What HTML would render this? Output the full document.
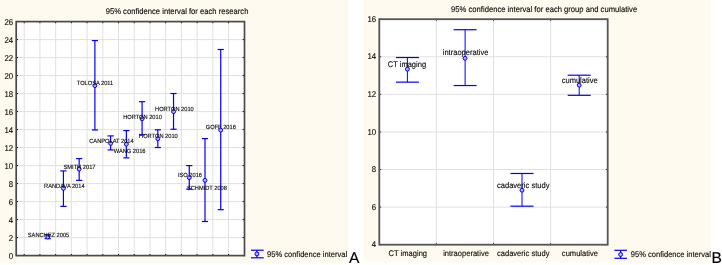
<!DOCTYPE html>
<html><head><meta charset="utf-8"><title>Confidence intervals</title>
<style>
html,body{margin:0;padding:0;background:#fff;width:722px;height:265px;overflow:hidden}
svg text{text-rendering:geometricPrecision;font-family:"Liberation Sans", sans-serif;fill:#0a0a0a;stroke:#0a0a0a;stroke-width:0.12px}
svg text.big{fill:#000;stroke:#000;stroke-width:0.15px}
</style></head><body>
<svg width="722" height="265" viewBox="0 0 722 265" style="display:block;filter:blur(0.3px)">
<rect x="0" y="0" width="722" height="265" fill="#ffffff"/>
<rect x="0" y="0" width="348.3" height="263.2" fill="#fffaf0"/>
<rect x="363.6" y="0" width="347.2" height="262.6" fill="#fffaf0"/>
<rect x="16.2" y="21.6" width="228.3" height="234.0" fill="#fff"/>
<line x1="24.20" y1="21.6" x2="24.20" y2="255.6" stroke="#e0e0e0" stroke-width="1"/>
<line x1="39.92" y1="21.6" x2="39.92" y2="255.6" stroke="#e0e0e0" stroke-width="1"/>
<line x1="55.64" y1="21.6" x2="55.64" y2="255.6" stroke="#e0e0e0" stroke-width="1"/>
<line x1="71.36" y1="21.6" x2="71.36" y2="255.6" stroke="#e0e0e0" stroke-width="1"/>
<line x1="87.08" y1="21.6" x2="87.08" y2="255.6" stroke="#e0e0e0" stroke-width="1"/>
<line x1="102.80" y1="21.6" x2="102.80" y2="255.6" stroke="#e0e0e0" stroke-width="1"/>
<line x1="118.52" y1="21.6" x2="118.52" y2="255.6" stroke="#e0e0e0" stroke-width="1"/>
<line x1="134.24" y1="21.6" x2="134.24" y2="255.6" stroke="#e0e0e0" stroke-width="1"/>
<line x1="149.96" y1="21.6" x2="149.96" y2="255.6" stroke="#e0e0e0" stroke-width="1"/>
<line x1="165.68" y1="21.6" x2="165.68" y2="255.6" stroke="#e0e0e0" stroke-width="1"/>
<line x1="181.40" y1="21.6" x2="181.40" y2="255.6" stroke="#e0e0e0" stroke-width="1"/>
<line x1="197.12" y1="21.6" x2="197.12" y2="255.6" stroke="#e0e0e0" stroke-width="1"/>
<line x1="212.84" y1="21.6" x2="212.84" y2="255.6" stroke="#e0e0e0" stroke-width="1"/>
<line x1="228.56" y1="21.6" x2="228.56" y2="255.6" stroke="#e0e0e0" stroke-width="1"/>
<line x1="16.2" y1="237.60" x2="244.5" y2="237.60" stroke="#e0e0e0" stroke-width="1"/>
<line x1="16.2" y1="219.60" x2="244.5" y2="219.60" stroke="#e0e0e0" stroke-width="1"/>
<line x1="16.2" y1="201.60" x2="244.5" y2="201.60" stroke="#e0e0e0" stroke-width="1"/>
<line x1="16.2" y1="183.60" x2="244.5" y2="183.60" stroke="#e0e0e0" stroke-width="1"/>
<line x1="16.2" y1="165.60" x2="244.5" y2="165.60" stroke="#e0e0e0" stroke-width="1"/>
<line x1="16.2" y1="147.60" x2="244.5" y2="147.60" stroke="#e0e0e0" stroke-width="1"/>
<line x1="16.2" y1="129.60" x2="244.5" y2="129.60" stroke="#e0e0e0" stroke-width="1"/>
<line x1="16.2" y1="111.60" x2="244.5" y2="111.60" stroke="#e0e0e0" stroke-width="1"/>
<line x1="16.2" y1="93.60" x2="244.5" y2="93.60" stroke="#e0e0e0" stroke-width="1"/>
<line x1="16.2" y1="75.60" x2="244.5" y2="75.60" stroke="#e0e0e0" stroke-width="1"/>
<line x1="16.2" y1="57.60" x2="244.5" y2="57.60" stroke="#e0e0e0" stroke-width="1"/>
<line x1="16.2" y1="39.60" x2="244.5" y2="39.60" stroke="#e0e0e0" stroke-width="1"/>
<line x1="24.20" y1="255.6" x2="24.20" y2="254.0" stroke="#000" stroke-width="1"/>
<line x1="24.20" y1="21.6" x2="24.20" y2="23.200000000000003" stroke="#000" stroke-width="1"/>
<line x1="39.92" y1="255.6" x2="39.92" y2="254.0" stroke="#000" stroke-width="1"/>
<line x1="39.92" y1="21.6" x2="39.92" y2="23.200000000000003" stroke="#000" stroke-width="1"/>
<line x1="55.64" y1="255.6" x2="55.64" y2="254.0" stroke="#000" stroke-width="1"/>
<line x1="55.64" y1="21.6" x2="55.64" y2="23.200000000000003" stroke="#000" stroke-width="1"/>
<line x1="71.36" y1="255.6" x2="71.36" y2="254.0" stroke="#000" stroke-width="1"/>
<line x1="71.36" y1="21.6" x2="71.36" y2="23.200000000000003" stroke="#000" stroke-width="1"/>
<line x1="87.08" y1="255.6" x2="87.08" y2="254.0" stroke="#000" stroke-width="1"/>
<line x1="87.08" y1="21.6" x2="87.08" y2="23.200000000000003" stroke="#000" stroke-width="1"/>
<line x1="102.80" y1="255.6" x2="102.80" y2="254.0" stroke="#000" stroke-width="1"/>
<line x1="102.80" y1="21.6" x2="102.80" y2="23.200000000000003" stroke="#000" stroke-width="1"/>
<line x1="118.52" y1="255.6" x2="118.52" y2="254.0" stroke="#000" stroke-width="1"/>
<line x1="118.52" y1="21.6" x2="118.52" y2="23.200000000000003" stroke="#000" stroke-width="1"/>
<line x1="134.24" y1="255.6" x2="134.24" y2="254.0" stroke="#000" stroke-width="1"/>
<line x1="134.24" y1="21.6" x2="134.24" y2="23.200000000000003" stroke="#000" stroke-width="1"/>
<line x1="149.96" y1="255.6" x2="149.96" y2="254.0" stroke="#000" stroke-width="1"/>
<line x1="149.96" y1="21.6" x2="149.96" y2="23.200000000000003" stroke="#000" stroke-width="1"/>
<line x1="165.68" y1="255.6" x2="165.68" y2="254.0" stroke="#000" stroke-width="1"/>
<line x1="165.68" y1="21.6" x2="165.68" y2="23.200000000000003" stroke="#000" stroke-width="1"/>
<line x1="181.40" y1="255.6" x2="181.40" y2="254.0" stroke="#000" stroke-width="1"/>
<line x1="181.40" y1="21.6" x2="181.40" y2="23.200000000000003" stroke="#000" stroke-width="1"/>
<line x1="197.12" y1="255.6" x2="197.12" y2="254.0" stroke="#000" stroke-width="1"/>
<line x1="197.12" y1="21.6" x2="197.12" y2="23.200000000000003" stroke="#000" stroke-width="1"/>
<line x1="212.84" y1="255.6" x2="212.84" y2="254.0" stroke="#000" stroke-width="1"/>
<line x1="212.84" y1="21.6" x2="212.84" y2="23.200000000000003" stroke="#000" stroke-width="1"/>
<line x1="228.56" y1="255.6" x2="228.56" y2="254.0" stroke="#000" stroke-width="1"/>
<line x1="228.56" y1="21.6" x2="228.56" y2="23.200000000000003" stroke="#000" stroke-width="1"/>
<line x1="16.2" y1="255.60" x2="18.0" y2="255.60" stroke="#000" stroke-width="1"/>
<line x1="244.5" y1="255.60" x2="242.7" y2="255.60" stroke="#000" stroke-width="1"/>
<line x1="16.2" y1="237.60" x2="18.0" y2="237.60" stroke="#000" stroke-width="1"/>
<line x1="244.5" y1="237.60" x2="242.7" y2="237.60" stroke="#000" stroke-width="1"/>
<line x1="16.2" y1="219.60" x2="18.0" y2="219.60" stroke="#000" stroke-width="1"/>
<line x1="244.5" y1="219.60" x2="242.7" y2="219.60" stroke="#000" stroke-width="1"/>
<line x1="16.2" y1="201.60" x2="18.0" y2="201.60" stroke="#000" stroke-width="1"/>
<line x1="244.5" y1="201.60" x2="242.7" y2="201.60" stroke="#000" stroke-width="1"/>
<line x1="16.2" y1="183.60" x2="18.0" y2="183.60" stroke="#000" stroke-width="1"/>
<line x1="244.5" y1="183.60" x2="242.7" y2="183.60" stroke="#000" stroke-width="1"/>
<line x1="16.2" y1="165.60" x2="18.0" y2="165.60" stroke="#000" stroke-width="1"/>
<line x1="244.5" y1="165.60" x2="242.7" y2="165.60" stroke="#000" stroke-width="1"/>
<line x1="16.2" y1="147.60" x2="18.0" y2="147.60" stroke="#000" stroke-width="1"/>
<line x1="244.5" y1="147.60" x2="242.7" y2="147.60" stroke="#000" stroke-width="1"/>
<line x1="16.2" y1="129.60" x2="18.0" y2="129.60" stroke="#000" stroke-width="1"/>
<line x1="244.5" y1="129.60" x2="242.7" y2="129.60" stroke="#000" stroke-width="1"/>
<line x1="16.2" y1="111.60" x2="18.0" y2="111.60" stroke="#000" stroke-width="1"/>
<line x1="244.5" y1="111.60" x2="242.7" y2="111.60" stroke="#000" stroke-width="1"/>
<line x1="16.2" y1="93.60" x2="18.0" y2="93.60" stroke="#000" stroke-width="1"/>
<line x1="244.5" y1="93.60" x2="242.7" y2="93.60" stroke="#000" stroke-width="1"/>
<line x1="16.2" y1="75.60" x2="18.0" y2="75.60" stroke="#000" stroke-width="1"/>
<line x1="244.5" y1="75.60" x2="242.7" y2="75.60" stroke="#000" stroke-width="1"/>
<line x1="16.2" y1="57.60" x2="18.0" y2="57.60" stroke="#000" stroke-width="1"/>
<line x1="244.5" y1="57.60" x2="242.7" y2="57.60" stroke="#000" stroke-width="1"/>
<line x1="16.2" y1="39.60" x2="18.0" y2="39.60" stroke="#000" stroke-width="1"/>
<line x1="244.5" y1="39.60" x2="242.7" y2="39.60" stroke="#000" stroke-width="1"/>
<line x1="16.2" y1="21.60" x2="18.0" y2="21.60" stroke="#000" stroke-width="1"/>
<line x1="244.5" y1="21.60" x2="242.7" y2="21.60" stroke="#000" stroke-width="1"/>
<rect x="16.2" y="21.6" width="228.3" height="234.0" fill="none" stroke="#4a4a4a" stroke-width="1.7"/>
<text transform="translate(13.20,258.62) scale(1,1.08)" font-size="7.8" text-anchor="end">0</text>
<text transform="translate(13.20,240.62) scale(1,1.08)" font-size="7.8" text-anchor="end">2</text>
<text transform="translate(13.20,222.62) scale(1,1.08)" font-size="7.8" text-anchor="end">4</text>
<text transform="translate(13.20,204.62) scale(1,1.08)" font-size="7.8" text-anchor="end">6</text>
<text transform="translate(13.20,186.62) scale(1,1.08)" font-size="7.8" text-anchor="end">8</text>
<text transform="translate(13.20,168.62) scale(1,1.08)" font-size="7.8" text-anchor="end">10</text>
<text transform="translate(13.20,150.62) scale(1,1.08)" font-size="7.8" text-anchor="end">12</text>
<text transform="translate(13.20,132.62) scale(1,1.08)" font-size="7.8" text-anchor="end">14</text>
<text transform="translate(13.20,114.62) scale(1,1.08)" font-size="7.8" text-anchor="end">16</text>
<text transform="translate(13.20,96.62) scale(1,1.08)" font-size="7.8" text-anchor="end">18</text>
<text transform="translate(13.20,78.62) scale(1,1.08)" font-size="7.8" text-anchor="end">20</text>
<text transform="translate(13.20,60.62) scale(1,1.08)" font-size="7.8" text-anchor="end">22</text>
<text transform="translate(13.20,42.62) scale(1,1.08)" font-size="7.8" text-anchor="end">24</text>
<text transform="translate(13.20,24.62) scale(1,1.08)" font-size="7.8" text-anchor="end">26</text>
<text transform="translate(105.70,13.50) scale(1,1.08)" font-size="7.65">95% confidence interval for each research</text>
<line x1="47.70" y1="234.90" x2="47.70" y2="238.68" stroke="#0000ff" stroke-width="1.2"/>
<line x1="44.60" y1="234.90" x2="50.80" y2="234.90" stroke="#0000ff" stroke-width="1.2"/>
<line x1="44.60" y1="238.68" x2="50.80" y2="238.68" stroke="#0000ff" stroke-width="1.2"/>
<circle cx="47.70" cy="236.97" r="1.95" fill="#b4b4ff" stroke="#0000ff" stroke-width="1.0"/>
<line x1="63.43" y1="170.91" x2="63.43" y2="206.37" stroke="#0000ff" stroke-width="1.2"/>
<line x1="60.33" y1="170.91" x2="66.53" y2="170.91" stroke="#0000ff" stroke-width="1.2"/>
<line x1="60.33" y1="206.37" x2="66.53" y2="206.37" stroke="#0000ff" stroke-width="1.2"/>
<circle cx="63.43" cy="188.37" r="1.95" fill="#b4b4ff" stroke="#0000ff" stroke-width="1.0"/>
<line x1="79.16" y1="158.58" x2="79.16" y2="180.36" stroke="#0000ff" stroke-width="1.2"/>
<line x1="76.06" y1="158.58" x2="82.26" y2="158.58" stroke="#0000ff" stroke-width="1.2"/>
<line x1="76.06" y1="180.36" x2="82.26" y2="180.36" stroke="#0000ff" stroke-width="1.2"/>
<circle cx="79.16" cy="169.11" r="1.95" fill="#b4b4ff" stroke="#0000ff" stroke-width="1.0"/>
<line x1="94.89" y1="40.59" x2="94.89" y2="129.96" stroke="#0000ff" stroke-width="1.2"/>
<line x1="91.79" y1="40.59" x2="97.99" y2="40.59" stroke="#0000ff" stroke-width="1.2"/>
<line x1="91.79" y1="129.96" x2="97.99" y2="129.96" stroke="#0000ff" stroke-width="1.2"/>
<circle cx="94.89" cy="85.59" r="1.95" fill="#b4b4ff" stroke="#0000ff" stroke-width="1.0"/>
<line x1="110.62" y1="135.90" x2="110.62" y2="149.94" stroke="#0000ff" stroke-width="1.2"/>
<line x1="107.52" y1="135.90" x2="113.72" y2="135.90" stroke="#0000ff" stroke-width="1.2"/>
<line x1="107.52" y1="149.94" x2="113.72" y2="149.94" stroke="#0000ff" stroke-width="1.2"/>
<circle cx="110.62" cy="143.37" r="1.95" fill="#b4b4ff" stroke="#0000ff" stroke-width="1.0"/>
<line x1="126.35" y1="130.59" x2="126.35" y2="157.86" stroke="#0000ff" stroke-width="1.2"/>
<line x1="123.25" y1="130.59" x2="129.45" y2="130.59" stroke="#0000ff" stroke-width="1.2"/>
<line x1="123.25" y1="157.86" x2="129.45" y2="157.86" stroke="#0000ff" stroke-width="1.2"/>
<circle cx="126.35" cy="144.18" r="1.95" fill="#b4b4ff" stroke="#0000ff" stroke-width="1.0"/>
<line x1="142.08" y1="101.70" x2="142.08" y2="134.73" stroke="#0000ff" stroke-width="1.2"/>
<line x1="138.98" y1="101.70" x2="145.18" y2="101.70" stroke="#0000ff" stroke-width="1.2"/>
<line x1="138.98" y1="134.73" x2="145.18" y2="134.73" stroke="#0000ff" stroke-width="1.2"/>
<circle cx="142.08" cy="118.80" r="1.95" fill="#b4b4ff" stroke="#0000ff" stroke-width="1.0"/>
<line x1="157.81" y1="129.78" x2="157.81" y2="147.51" stroke="#0000ff" stroke-width="1.2"/>
<line x1="154.71" y1="129.78" x2="160.91" y2="129.78" stroke="#0000ff" stroke-width="1.2"/>
<line x1="154.71" y1="147.51" x2="160.91" y2="147.51" stroke="#0000ff" stroke-width="1.2"/>
<circle cx="157.81" cy="138.69" r="1.95" fill="#b4b4ff" stroke="#0000ff" stroke-width="1.0"/>
<line x1="173.54" y1="93.51" x2="173.54" y2="129.24" stroke="#0000ff" stroke-width="1.2"/>
<line x1="170.44" y1="93.51" x2="176.64" y2="93.51" stroke="#0000ff" stroke-width="1.2"/>
<line x1="170.44" y1="129.24" x2="176.64" y2="129.24" stroke="#0000ff" stroke-width="1.2"/>
<circle cx="173.54" cy="111.60" r="1.95" fill="#b4b4ff" stroke="#0000ff" stroke-width="1.0"/>
<line x1="189.27" y1="165.60" x2="189.27" y2="189.09" stroke="#0000ff" stroke-width="1.2"/>
<line x1="186.17" y1="165.60" x2="192.37" y2="165.60" stroke="#0000ff" stroke-width="1.2"/>
<line x1="186.17" y1="189.09" x2="192.37" y2="189.09" stroke="#0000ff" stroke-width="1.2"/>
<circle cx="189.27" cy="177.66" r="1.95" fill="#b4b4ff" stroke="#0000ff" stroke-width="1.0"/>
<line x1="205.00" y1="138.60" x2="205.00" y2="221.49" stroke="#0000ff" stroke-width="1.2"/>
<line x1="201.90" y1="138.60" x2="208.10" y2="138.60" stroke="#0000ff" stroke-width="1.2"/>
<line x1="201.90" y1="221.49" x2="208.10" y2="221.49" stroke="#0000ff" stroke-width="1.2"/>
<circle cx="205.00" cy="180.36" r="1.95" fill="#b4b4ff" stroke="#0000ff" stroke-width="1.0"/>
<line x1="220.73" y1="49.50" x2="220.73" y2="209.70" stroke="#0000ff" stroke-width="1.2"/>
<line x1="217.63" y1="49.50" x2="223.83" y2="49.50" stroke="#0000ff" stroke-width="1.2"/>
<line x1="217.63" y1="209.70" x2="223.83" y2="209.70" stroke="#0000ff" stroke-width="1.2"/>
<circle cx="220.73" cy="130.14" r="1.95" fill="#b4b4ff" stroke="#0000ff" stroke-width="1.0"/>
<text transform="translate(48.50,236.70) scale(1,1.08)" font-size="5.7" text-anchor="middle">SANCHEZ 2005</text>
<text transform="translate(64.30,188.40) scale(1,1.08)" font-size="5.7" text-anchor="middle">RANDAVA 2014</text>
<text transform="translate(79.50,169.20) scale(1,1.08)" font-size="5.7" text-anchor="middle">SMITH 2017</text>
<text transform="translate(95.00,85.00) scale(1,1.08)" font-size="5.7" text-anchor="middle">TOLOSA 2011</text>
<text transform="translate(111.45,142.70) scale(1,1.08)" font-size="5.7" text-anchor="middle">CANPOLAT 2014</text>
<text transform="translate(129.60,153.20) scale(1,1.08)" font-size="5.7" text-anchor="middle">WANG 2016</text>
<text transform="translate(142.50,118.60) scale(1,1.08)" font-size="5.7" text-anchor="middle">HORTON 2010</text>
<text transform="translate(158.40,138.10) scale(1,1.08)" font-size="5.7" text-anchor="middle">HORTON 2010</text>
<text transform="translate(174.40,110.80) scale(1,1.08)" font-size="5.7" text-anchor="middle">HORTON 2010</text>
<text transform="translate(190.00,177.00) scale(1,1.08)" font-size="5.7" text-anchor="middle">ISO 2016</text>
<text transform="translate(206.90,189.50) scale(1,1.08)" font-size="5.7" text-anchor="middle">SCHMIDT 2008</text>
<text transform="translate(220.80,128.90) scale(1,1.08)" font-size="5.7" text-anchor="middle">GOFF 2016</text>
<line x1="251" y1="250.2" x2="263.7" y2="250.2" stroke="#0000ff" stroke-width="1.2"/>
<line x1="251" y1="257.8" x2="263.7" y2="257.8" stroke="#0000ff" stroke-width="1.2"/>
<line x1="256.9" y1="250.2" x2="256.9" y2="257.8" stroke="#0000ff" stroke-width="1.2"/>
<circle cx="256.9" cy="253.9" r="1.95" fill="#b4b4ff" stroke="#0000ff" stroke-width="1.0"/>
<text transform="translate(267.00,257.10) scale(1,1.08)" font-size="7.55">95% confidence interval</text>
<text transform="translate(348.90,262.70) scale(1,1.0)" font-size="15.5" class="big">A</text>
<rect x="379.3" y="19.2" width="228.40000000000003" height="225.5" fill="#fff"/>
<line x1="436.40" y1="19.2" x2="436.40" y2="244.7" stroke="#e0e0e0" stroke-width="1"/>
<line x1="436.40" y1="244.7" x2="436.40" y2="243.1" stroke="#333" stroke-width="1"/>
<line x1="436.40" y1="19.2" x2="436.40" y2="20.8" stroke="#333" stroke-width="1"/>
<line x1="493.50" y1="19.2" x2="493.50" y2="244.7" stroke="#e0e0e0" stroke-width="1"/>
<line x1="493.50" y1="244.7" x2="493.50" y2="243.1" stroke="#333" stroke-width="1"/>
<line x1="493.50" y1="19.2" x2="493.50" y2="20.8" stroke="#333" stroke-width="1"/>
<line x1="550.60" y1="19.2" x2="550.60" y2="244.7" stroke="#e0e0e0" stroke-width="1"/>
<line x1="550.60" y1="244.7" x2="550.60" y2="243.1" stroke="#333" stroke-width="1"/>
<line x1="550.60" y1="19.2" x2="550.60" y2="20.8" stroke="#333" stroke-width="1"/>
<line x1="379.3" y1="207.12" x2="607.7" y2="207.12" stroke="#e0e0e0" stroke-width="1"/>
<line x1="379.3" y1="169.53" x2="607.7" y2="169.53" stroke="#e0e0e0" stroke-width="1"/>
<line x1="379.3" y1="131.95" x2="607.7" y2="131.95" stroke="#e0e0e0" stroke-width="1"/>
<line x1="379.3" y1="94.37" x2="607.7" y2="94.37" stroke="#e0e0e0" stroke-width="1"/>
<line x1="379.3" y1="56.78" x2="607.7" y2="56.78" stroke="#e0e0e0" stroke-width="1"/>
<line x1="379.3" y1="244.70" x2="381.1" y2="244.70" stroke="#333" stroke-width="1"/>
<line x1="607.7" y1="244.70" x2="605.9000000000001" y2="244.70" stroke="#333" stroke-width="1"/>
<text transform="translate(376.20,247.32) scale(1,1.08)" font-size="7.8" text-anchor="end">4</text>
<line x1="379.3" y1="207.12" x2="381.1" y2="207.12" stroke="#333" stroke-width="1"/>
<line x1="607.7" y1="207.12" x2="605.9000000000001" y2="207.12" stroke="#333" stroke-width="1"/>
<text transform="translate(376.20,209.73) scale(1,1.08)" font-size="7.8" text-anchor="end">6</text>
<line x1="379.3" y1="169.53" x2="381.1" y2="169.53" stroke="#333" stroke-width="1"/>
<line x1="607.7" y1="169.53" x2="605.9000000000001" y2="169.53" stroke="#333" stroke-width="1"/>
<text transform="translate(376.20,172.15) scale(1,1.08)" font-size="7.8" text-anchor="end">8</text>
<line x1="379.3" y1="131.95" x2="381.1" y2="131.95" stroke="#333" stroke-width="1"/>
<line x1="607.7" y1="131.95" x2="605.9000000000001" y2="131.95" stroke="#333" stroke-width="1"/>
<text transform="translate(376.20,134.57) scale(1,1.08)" font-size="7.8" text-anchor="end">10</text>
<line x1="379.3" y1="94.37" x2="381.1" y2="94.37" stroke="#333" stroke-width="1"/>
<line x1="607.7" y1="94.37" x2="605.9000000000001" y2="94.37" stroke="#333" stroke-width="1"/>
<text transform="translate(376.20,96.98) scale(1,1.08)" font-size="7.8" text-anchor="end">12</text>
<line x1="379.3" y1="56.78" x2="381.1" y2="56.78" stroke="#333" stroke-width="1"/>
<line x1="607.7" y1="56.78" x2="605.9000000000001" y2="56.78" stroke="#333" stroke-width="1"/>
<text transform="translate(376.20,59.40) scale(1,1.08)" font-size="7.8" text-anchor="end">14</text>
<line x1="379.3" y1="19.20" x2="381.1" y2="19.20" stroke="#333" stroke-width="1"/>
<line x1="607.7" y1="19.20" x2="605.9000000000001" y2="19.20" stroke="#333" stroke-width="1"/>
<text transform="translate(376.20,21.82) scale(1,1.08)" font-size="7.8" text-anchor="end">16</text>
<rect x="379.3" y="19.2" width="228.40000000000003" height="225.5" fill="none" stroke="#555" stroke-width="1.8"/>
<text transform="translate(451.10,11.50) scale(1,1.08)" font-size="7.65">95% confidence interval for each group and cumulative</text>
<line x1="407.40" y1="57.53" x2="407.40" y2="82.15" stroke="#0000ff" stroke-width="1.0"/>
<line x1="395.90" y1="57.53" x2="418.90" y2="57.53" stroke="#0000ff" stroke-width="1.2"/>
<line x1="395.90" y1="82.15" x2="418.90" y2="82.15" stroke="#0000ff" stroke-width="1.2"/>
<circle cx="407.40" cy="69.19" r="1.95" fill="#b4b4ff" stroke="#0000ff" stroke-width="1.0"/>
<line x1="465.10" y1="29.72" x2="465.10" y2="85.53" stroke="#0000ff" stroke-width="1.0"/>
<line x1="453.60" y1="29.72" x2="476.60" y2="29.72" stroke="#0000ff" stroke-width="1.2"/>
<line x1="453.60" y1="85.53" x2="476.60" y2="85.53" stroke="#0000ff" stroke-width="1.2"/>
<circle cx="465.10" cy="58.29" r="1.95" fill="#b4b4ff" stroke="#0000ff" stroke-width="1.0"/>
<line x1="522.00" y1="173.48" x2="522.00" y2="206.18" stroke="#0000ff" stroke-width="1.0"/>
<line x1="510.50" y1="173.48" x2="533.50" y2="173.48" stroke="#0000ff" stroke-width="1.2"/>
<line x1="510.50" y1="206.18" x2="533.50" y2="206.18" stroke="#0000ff" stroke-width="1.2"/>
<circle cx="522.00" cy="190.20" r="1.95" fill="#b4b4ff" stroke="#0000ff" stroke-width="1.0"/>
<line x1="579.20" y1="75.20" x2="579.20" y2="95.31" stroke="#0000ff" stroke-width="1.0"/>
<line x1="567.70" y1="75.20" x2="590.70" y2="75.20" stroke="#0000ff" stroke-width="1.2"/>
<line x1="567.70" y1="95.31" x2="590.70" y2="95.31" stroke="#0000ff" stroke-width="1.2"/>
<circle cx="579.20" cy="85.16" r="1.95" fill="#b4b4ff" stroke="#0000ff" stroke-width="1.0"/>
<text transform="translate(406.90,67.10) scale(1,1.08)" font-size="7.55" text-anchor="middle">CT imaging</text>
<text transform="translate(465.60,55.00) scale(1,1.08)" font-size="7.55" text-anchor="middle">intraoperative</text>
<text transform="translate(523.20,187.60) scale(1,1.08)" font-size="7.55" text-anchor="middle">cadaveric study</text>
<text transform="translate(579.70,83.00) scale(1,1.08)" font-size="7.55" text-anchor="middle">cumulative</text>
<text transform="translate(407.80,256.20) scale(1,1.08)" font-size="7.55" text-anchor="middle">CT imaging</text>
<text transform="translate(466.00,256.20) scale(1,1.08)" font-size="7.55" text-anchor="middle">intraoperative</text>
<text transform="translate(523.20,256.20) scale(1,1.08)" font-size="7.55" text-anchor="middle">cadaveric study</text>
<text transform="translate(579.90,256.20) scale(1,1.08)" font-size="7.55" text-anchor="middle">cumulative</text>
<line x1="614.4" y1="250.3" x2="627.0" y2="250.3" stroke="#0000ff" stroke-width="1.2"/>
<line x1="614.4" y1="258.3" x2="627.0" y2="258.3" stroke="#0000ff" stroke-width="1.2"/>
<line x1="620.6" y1="250.3" x2="620.6" y2="258.3" stroke="#0000ff" stroke-width="1.2"/>
<circle cx="620.6" cy="254.5" r="1.95" fill="#b4b4ff" stroke="#0000ff" stroke-width="1.0"/>
<text transform="translate(630.80,257.40) scale(1,1.08)" font-size="7.55">95% confidence interval</text>
<text transform="translate(711.50,262.70) scale(1,1.0)" font-size="15.5" class="big">B</text>
</svg>
</body></html>
